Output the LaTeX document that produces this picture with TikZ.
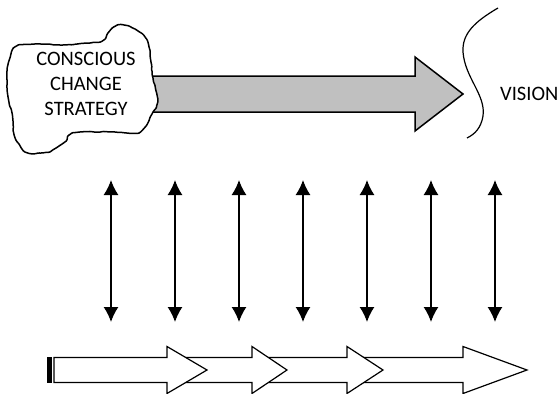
\documentclass[tikz,border=0pt]{standalone}
\usepackage{fontspec}
\setmainfont{Carlito}
\usetikzlibrary{arrows.meta,decorations.pathmorphing}
\definecolor{arrowgray}{HTML}{C0C0C0}
\begin{document}
\begin{tikzpicture}[x=1pt,y=-1pt,
  label text/.style={font=\fontsize{20.5}{25}\selectfont, inner sep=0pt, align=center},
  main arrow/.style={draw=black, fill=arrowgray, line width=1.5pt, line join=miter},
  cloud edge/.style={draw=black, fill=white, line width=1.5pt, line join=round,
    decorate, decoration={random steps, segment length=3pt, amplitude=0.45pt}, rounded corners=1pt},
  link/.style={line width=1.5pt, {Latex[length=15pt,width=15pt]}-{Latex[length=15pt,width=15pt]}},
  step arrow/.style={draw=black, fill=white, line width=1.2pt, line join=miter},
  brace line/.style={draw=black, line width=1.2pt}
]
\useasboundingbox (0,0) rectangle (558,394);

% big grey arrow, its tail tucked under the cloud
\draw[main arrow] (140,76) -- (415,76) -- (415,57) -- (463,94) -- (415,131) -- (415,112) -- (140,112) -- cycle;

% hand-drawn cloud
\pgfmathsetseed{7}
\draw[cloud edge] plot[smooth cycle, tension=0.5] coordinates {
  (15,47) (35,44) (62,45) (90,43) (102,41) (108,33) (114,27) (123,25) (135,29)
  (145,37) (149,47) (151,62) (153,78) (157,95) (157,104) (152,114) (146,126)
  (137,133) (110,132) (80,132) (71,134) (66,141) (56,148) (48,152) (28,153)
  (19,144) (14,134) (13,121) (12,113) (9,102) (7,87) (7,72) (10,58)};
\node[label text] (strategy) at (86,84) {CONSCIOUS\\CHANGE\\STRATEGY};

% curved boundary in front of the vision
\coordinate (btop) at (498,8);
\coordinate (bbot) at (467,138);
\draw[brace line] (btop) .. controls (474,22) and (462,34) .. (463,52)
  .. controls (465,78) and (486,95) .. (483,116)
  .. controls (481,128) and (475,134) .. (bbot);
\node[label text, anchor=west] (vision) at (500,94) {VISION};

% two-way links
\foreach \i/\x in {1/111,2/175,3/239,4/303,5/367,6/431,7/495}{
  \coordinate (up\i) at (\x,180);
  \coordinate (dn\i) at (\x,322);
  \draw[link] (up\i) -- (dn\i);
}

% chain of step arrows, drawn back to front
\newcommand\blockarrow[3]{%
  \draw[step arrow] (#1,357.5) -- (#2,357.5) -- (#2,346.5) -- (#3,370)
    -- (#2,393.5) -- (#2,382.5) -- (#1,382.5) -- cycle;}
\blockarrow{360}{463}{527}
\blockarrow{265}{347}{383}
\blockarrow{180}{252}{287}
\blockarrow{54}{167}{207}
\fill[black] (46.5,356.9) rectangle (51.5,383.1);
\end{tikzpicture}
\end{document}
